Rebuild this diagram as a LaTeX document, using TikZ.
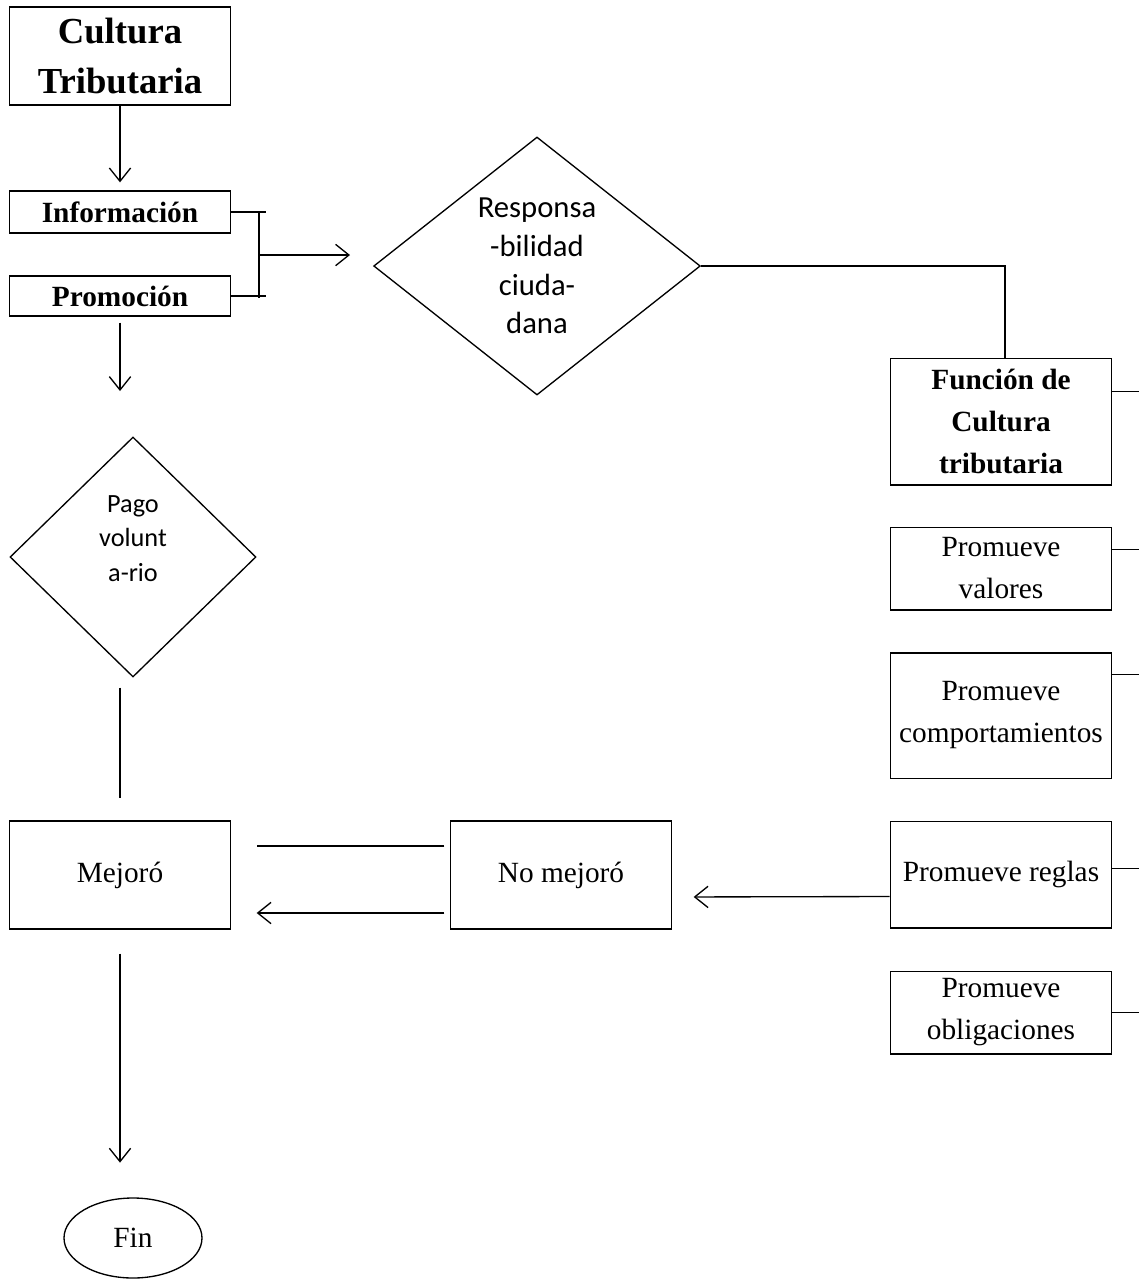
\documentclass[tikz,border=0pt]{standalone}
\usepackage{fontspec}
\setmainfont{Liberation Serif}
\newfontfamily\califont{Carlito}
\usetikzlibrary{shapes.geometric,arrows.meta,positioning,calc}

\begin{document}
\begin{tikzpicture}[x=0.75pt,y=-0.75pt,
  line width=1pt,>={Straight Barb[length=10pt,width=16pt]},
  box/.style={draw,rectangle,align=center,inner sep=0pt,minimum width=166pt,
    font=\fontsize{22}{31.5}\selectfont},
  bbox/.style={box,font=\fontsize{22}{31.5}\selectfont\bfseries},
  rombo/.style={draw,diamond,align=center,inner sep=0pt,
    font=\califont\fontsize{23}{29}\selectfont},
  fin node/.style={draw,ellipse,inner sep=0pt,font=\fontsize{22}{26}\selectfont}]

  \useasboundingbox (0,0) rectangle (1139,1279);

  % columna izquierda
  \node[bbox,minimum height=73.5pt,font=\fontsize{27.5}{37}\selectfont\bfseries] (cult) at (120,56) {Cultura\\Tributaria};
  \node[bbox,minimum height=31.5pt] (info) at (120,212) {Información};
  \node[bbox,minimum height=30pt] (promo) at (120,296) {Promoción};
  \node[rombo,minimum width=184.5pt,minimum height=180pt,font=\califont\fontsize{19.7}{26}\selectfont] (pago) at (133,557)
    {\raisebox{0pt}[\height][\dimexpr\depth+25.5pt\relax]{\begin{tabular}{@{}c@{}}Pago\\volunt\\a-rio\end{tabular}}};
  \node[box,minimum height=81pt] (mej) at (120,875) {Mejoró};
  \node[fin node,minimum width=103.5pt,minimum height=60pt] (fin) at (133,1238) {Fin};

  % centro
  \node[rombo,minimum width=245pt,minimum height=193.5pt] (resp) at (537,266) {Responsa\\-bilidad\\ciuda-\\dana};
  \node[box,minimum height=81pt] (nomej) at (561,875) {No mejoró};

  % columna derecha
  \node[bbox,minimum height=95pt] (fun) at (1001,421.5) {Función de\\Cultura\\tributaria};
  \node[box,minimum height=62pt] (val) at (1001,568.5) {Promueve\\valores};
  \node[box,minimum height=94pt] (comp) at (1001,715.5) {Promueve\\comportamientos};
  \node[box,minimum height=80pt] (reg) at (1001,874.5) {Promueve reglas};
  \node[box,minimum height=62pt] (obl) at (1001,1012.5) {Promueve\\obligaciones};

  % llave de informacion y promocion
  \coordinate (brA) at (259,212);
  \coordinate (brB) at (259,298);
  \coordinate (brM) at (259,255);
  \coordinate (brE) at (350,255);
  \draw (info.east) -- ++(35,0);
  \draw (promo.east) -- ++(35,0);
  \draw (brA) -- (brB);
  \draw[->] (brM) -- (brE);

  % flechas
  \draw[->,shorten >=6pt] (cult) -- (info);
  \draw[->,shorten <=4.5pt,shorten >=34pt] (promo) -- (promo |- pago.north);
  \draw[shorten <=7.5pt,shorten >=17pt] (pago.south -| mej) -- (mej.north);
  \draw (resp.east) -| ([xshift=3pt]fun.north);
  \draw[->,shorten >=16pt] ($(reg.west)+(0,22)$) -- ($(nomej.east)+(0,22)$);
  \draw[shorten <=4pt,shorten >=19pt] ($(nomej.west)+(0,-29)$) -- ($(mej.east)+(0,-29)$);
  \draw[->,shorten <=4pt,shorten >=19pt] ($(nomej.west)+(0,38)$) -- ($(mej.east)+(0,38)$);
  \draw[->,shorten <=18pt,shorten >=26pt] (mej.south) -- (mej.south |- fin.north);

  % salidas a la derecha
  \foreach \n/\d in {fun/34,val/23,comp/22,reg/48,obl/42}
    \draw ($(\n.north east)+(0,\d)$) -- ++(28,0);

\end{tikzpicture}
\end{document}
